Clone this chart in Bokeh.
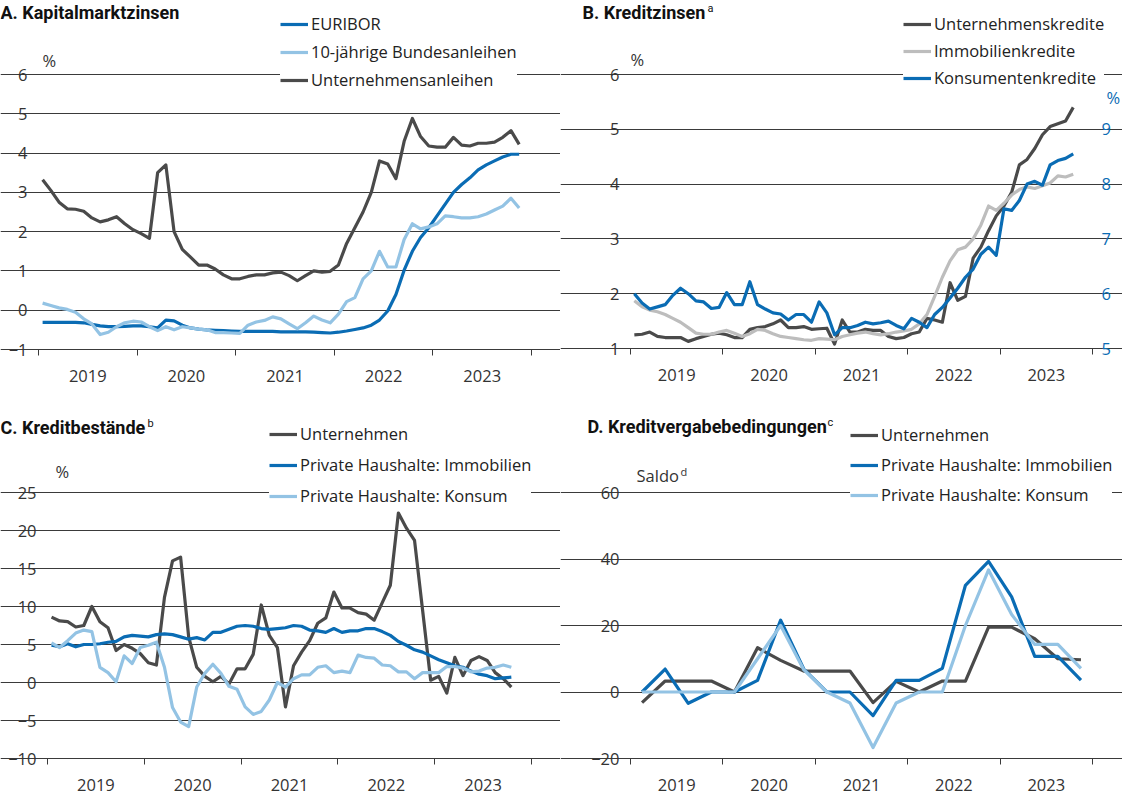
import pandas as pd
from bokeh.plotting import figure
from bokeh.models import Range1d, FixedTicker, Legend, LegendItem, Label, LinearAxis
from bokeh.layouts import row, column
from bokeh.embed import file_html
from bokeh.resources import INLINE

# ---------------- data ----------------
YEARS = ["2019", "2020", "2021", "2022", "2023"]

# A. Kapitalmarktzinsen (monthly, Jan 2019 - Nov 2023)
a_start, a_n = "2019-01", 59
euribor = [-0.31, -0.31, -0.31, -0.31, -0.31, -0.32, -0.36, -0.40, -0.42, -0.42,
           -0.41, -0.40, -0.40, -0.42, -0.45, -0.25, -0.27, -0.38, -0.45, -0.48,
           -0.50, -0.51, -0.52, -0.53, -0.54, -0.54, -0.54, -0.54, -0.54, -0.55,
           -0.55, -0.55, -0.55, -0.56, -0.57, -0.58, -0.56, -0.53, -0.49, -0.45,
           -0.38, -0.25, -0.02, 0.40, 1.02, 1.50, 1.85, 2.10, 2.40, 2.70,
           3.00, 3.20, 3.37, 3.57, 3.70, 3.80, 3.90, 3.97, 3.97]
bund10 = [0.18, 0.12, 0.06, 0.02, -0.05, -0.22, -0.35, -0.62, -0.56, -0.42,
          -0.32, -0.28, -0.30, -0.42, -0.52, -0.42, -0.50, -0.42, -0.45, -0.48,
          -0.50, -0.57, -0.57, -0.58, -0.59, -0.38, -0.30, -0.26, -0.17, -0.22,
          -0.35, -0.47, -0.32, -0.15, -0.25, -0.32, -0.10, 0.22, 0.32, 0.80,
          1.00, 1.50, 1.10, 1.10, 1.80, 2.20, 2.07, 2.12, 2.20, 2.40,
          2.38, 2.35, 2.35, 2.38, 2.45, 2.55, 2.65, 2.85, 2.60]
corp_bonds = [3.32, 3.05, 2.75, 2.58, 2.57, 2.52, 2.35, 2.25, 2.30, 2.38,
              2.20, 2.05, 1.95, 1.83, 3.50, 3.70, 2.00, 1.55, 1.35, 1.15,
              1.15, 1.05, 0.90, 0.80, 0.80, 0.86, 0.90, 0.90, 0.95, 0.97,
              0.88, 0.75, 0.88, 1.00, 0.97, 0.99, 1.15, 1.70, 2.10, 2.50,
              3.00, 3.80, 3.72, 3.35, 4.30, 4.88, 4.42, 4.18, 4.15, 4.15,
              4.40, 4.20, 4.18, 4.25, 4.25, 4.28, 4.40, 4.57, 4.22]

# B. Kreditzinsen (monthly, Jan 2019 - Oct 2023)
b_start, b_n = "2019-01", 58
corp_loans = [1.25, 1.26, 1.30, 1.22, 1.20, 1.20, 1.20, 1.13, 1.18, 1.22,
              1.26, 1.28, 1.25, 1.20, 1.20, 1.35, 1.38, 1.40, 1.45, 1.52,
              1.38, 1.38, 1.40, 1.35, 1.36, 1.37, 1.08, 1.52, 1.30, 1.30,
              1.35, 1.33, 1.33, 1.22, 1.18, 1.20, 1.27, 1.30, 1.55, 1.52,
              1.48, 2.20, 1.88, 1.95, 2.65, 2.85, 3.15, 3.42, 3.60, 3.85,
              4.35, 4.45, 4.65, 4.90, 5.05, 5.10, 5.15, 5.40]
mortgage_rates = [1.87, 1.76, 1.70, 1.67, 1.62, 1.55, 1.48, 1.38, 1.28, 1.26,
                  1.26, 1.30, 1.33, 1.28, 1.22, 1.27, 1.35, 1.33, 1.27, 1.22,
                  1.20, 1.18, 1.16, 1.15, 1.18, 1.17, 1.16, 1.22, 1.25, 1.28,
                  1.30, 1.27, 1.25, 1.27, 1.30, 1.32, 1.35, 1.45, 1.62, 1.95,
                  2.30, 2.60, 2.80, 2.85, 3.00, 3.25, 3.60, 3.52, 3.65, 3.80,
                  3.90, 3.95, 3.92, 3.97, 4.02, 4.15, 4.13, 4.18]
consumer_rates = [6.00, 5.83, 5.72, 5.76, 5.80, 5.97, 6.10, 6.00, 5.87, 5.85,
                  5.73, 5.75, 6.02, 5.80, 5.80, 6.22, 5.80, 5.72, 5.65, 5.63,
                  5.52, 5.62, 5.62, 5.48, 5.85, 5.65, 5.25, 5.38, 5.38, 5.42,
                  5.48, 5.45, 5.47, 5.50, 5.42, 5.36, 5.55, 5.48, 5.38, 5.62,
                  5.75, 5.92, 6.10, 6.30, 6.45, 6.72, 6.85, 6.70, 7.55, 7.52,
                  7.70, 8.00, 8.05, 7.98, 8.35, 8.43, 8.47, 8.55]

# C. Kreditbestände (monthly, Jan 2019 - Oct 2023)
c_start, c_n = "2019-01", 58
stock_firms = [8.6, 8.1, 8.0, 7.3, 7.5, 10.0, 8.0, 7.2, 4.2, 5.0,
               4.5, 3.8, 2.6, 2.3, 11.2, 16.0, 16.5, 6.0, 2.0, 0.8,
               0.1, 0.8, -0.2, 1.8, 1.8, 3.7, 10.2, 6.2, 4.6, -3.2,
               2.2, 4.0, 5.5, 7.8, 8.5, 11.9, 9.8, 9.8, 9.2, 9.0,
               8.2, 10.5, 12.8, 22.3, 20.3, 18.7, 9.5, 0.3, 0.8, -1.4,
               3.3, 0.9, 2.9, 3.4, 2.9, 1.3, 0.5, -0.6]
stock_mortgage = [4.9, 4.7, 5.1, 4.7, 5.0, 5.0, 5.1, 5.3, 5.4, 6.0,
                  6.2, 6.1, 6.0, 6.3, 6.4, 6.3, 6.0, 5.7, 5.9, 5.6,
                  6.6, 6.6, 7.0, 7.4, 7.5, 7.4, 7.1, 7.0, 7.1, 7.2,
                  7.5, 7.4, 6.9, 6.8, 6.6, 7.1, 6.6, 6.8, 6.8, 7.1,
                  7.1, 6.7, 6.2, 5.4, 4.9, 4.3, 4.0, 3.5, 3.0, 2.6,
                  2.2, 2.0, 1.5, 1.1, 0.9, 0.5, 0.6, 0.7]
stock_consumer = [5.2, 4.6, 5.5, 6.5, 6.9, 6.7, 2.0, 1.3, 0.1, 3.5,
                  2.5, 4.6, 4.9, 5.3, 2.0, -3.3, -5.2, -5.8, -0.6, 1.2,
                  2.4, 1.2, -0.5, -0.9, -3.2, -4.2, -3.8, -2.3, 0.0, -0.6,
                  0.5, 1.0, 1.0, 2.0, 2.2, 1.3, 1.5, 1.3, 3.6, 3.3,
                  3.2, 2.3, 2.2, 1.4, 1.4, 0.5, 1.3, 1.3, 1.3, 2.1,
                  2.1, 1.9, 1.4, 1.5, 1.9, 2.0, 2.3, 2.0]

# D. Kreditvergabebedingungen (quarterly, Q1 2019 - Q4 2023)
d_start, d_n = "2019Q1", 20
cond_firms = [-3.2, 3.3, 3.3, 3.3, 0.0, 13.3, 9.5, 6.3, 6.3, 6.3,
              -3.2, 3.2, 0.0, 3.3, 3.3, 19.5, 19.5, 16.0, 10.0, 9.7]
cond_mortgage = [0.0, 6.9, -3.4, 0.0, 0.0, 3.5, 21.6, 6.9, 0.0, 0.0,
                 -7.1, 3.5, 3.5, 7.1, 32.1, 39.3, 28.6, 10.7, 10.7, 3.6]
cond_consumer = [0.0, 0.0, 0.0, 0.0, 0.0, 10.0, 20.0, 6.7, 0.0, -3.3,
                 -16.7, -3.3, 0.0, 0.0, 20.0, 36.7, 23.3, 14.3, 14.3, 7.1]

# ---------------- styling ----------------
FONT = "Open Sans"
TITLE_FONT = "Roboto"
DARK = "#4a4a4a"
BLUE = "#0a6cb4"
LBLUE = "#93c3e4"
LGRAY = "#bdbdbd"
TXT = "#333333"
GRID = "#3a3a3a"
LW = 3.2
TICK_FS = "16.5px"
LEG_FS = "16.5px"
X0, X1 = int(YEARS[0]), int(YEARS[-1]) + 1


def months(start, n):
    return [p.year + (p.month - 0.5) / 12 for p in pd.period_range(start, periods=n, freq="M")]


def quarters(start, n):
    return [p.year + (p.quarter * 3 - 1.5) / 12 for p in pd.period_range(start, periods=n, freq="Q")]


def px_range(v_lo, px_lo, v_hi, px_hi, size):
    """Range whose v_lo sits at px_lo and v_hi at px_hi (pixels from the top)."""
    k = (v_hi - v_lo) / (px_lo - px_hi)
    return Range1d(v_lo - (size - px_lo) * k, v_hi + px_hi * k)


def make_fig(width, height, left, right, yticks, top_px, bottom_px):
    """The frame covers the whole canvas; axes sit at fixed data locations."""
    ppy = (right - left) / (X1 - X0)
    xr = Range1d(X0 - left / ppy, X1 + (width - right) / ppy)
    yr = px_range(yticks[0], bottom_px, yticks[-1], top_px, height)
    p = figure(width=width, height=height, x_range=xr, y_range=yr,
               output_backend="svg", toolbar_location=None, min_border=0,
               min_border_left=0, min_border_right=0,
               min_border_top=0, min_border_bottom=0)
    p.outline_line_color = None
    p.xgrid.visible = False
    p.ygrid.grid_line_color = GRID
    p.ygrid.grid_line_width = 1
    p.ygrid.bounds = (X0, X1)
    yax = p.yaxis[0]
    yax.fixed_location = X0
    yax.ticker = FixedTicker(ticks=yticks, minor_ticks=[])
    yax.major_label_overrides = {t: (str(t).replace("-", "\u2212")) for t in yticks}
    yax.axis_line_color = None
    yax.major_tick_line_color = None
    yax.minor_tick_line_color = None
    yax.major_tick_out = 0
    yax.major_tick_in = 0
    yax.major_label_standoff = 11
    yax.major_label_text_font = FONT
    yax.major_label_text_font_size = TICK_FS
    yax.major_label_text_color = TXT
    xax = p.xaxis[0]
    mids = [int(y) + 0.5 for y in YEARS]
    bounds = [int(y) for y in YEARS] + [X1]
    xax.fixed_location = yticks[0]
    xax.bounds = (X0, X1)
    xax.ticker = FixedTicker(ticks=mids, minor_ticks=bounds)
    xax.major_label_overrides = {m: y for m, y in zip(mids, YEARS)}
    xax.major_tick_line_color = None
    xax.major_tick_in = 0
    xax.major_tick_out = 0
    xax.minor_tick_in = 0
    xax.minor_tick_out = 6
    xax.minor_tick_line_color = GRID
    xax.axis_line_color = GRID
    xax.major_label_standoff = 14
    xax.major_label_text_font = FONT
    xax.major_label_text_font_size = TICK_FS
    xax.major_label_text_color = TXT
    return p


def add_legend(p, items, x, bottom_px, spacing, padding):
    leg = Legend(items=[LegendItem(label=l, renderers=[r]) for l, r in items],
                 location=(x, p.height - bottom_px), orientation="vertical",
                 background_fill_color="white", background_fill_alpha=1.0,
                 border_line_color=None, padding=padding, spacing=spacing, margin=0,
                 label_standoff=3, glyph_width=28, glyph_height=20, label_height=20,
                 label_text_font=FONT, label_text_font_size=LEG_FS,
                 label_text_color="#222222", label_text_baseline="middle")
    p.add_layout(leg)


def add_text(p, text, x, top_px, size="16.5px", bold=False, color="#111111", font=FONT):
    p.add_layout(Label(x=x, y=p.height - top_px, x_units="screen", y_units="screen", text=text,
                       text_font=font, text_font_size=size,
                       text_font_style="bold" if bold else "normal",
                       text_color=color, text_baseline="middle", text_align="left"))


def add_title(p, text, sup, x, top_px, sup_dx):
    add_text(p, text, x, top_px, size="18px", bold=True, font=TITLE_FONT)
    if sup:
        add_text(p, sup, x + sup_dx, top_px - 4, size="11px", font=TITLE_FONT)


# ---------------- panel A ----------------
xa = months(a_start, a_n)
pa = make_fig(560, 390, 38, 531, [-1, 0, 1, 2, 3, 4, 5, 6], 74, 349)
ra1 = pa.line(xa, euribor, color=BLUE, line_width=LW, line_join="round")
ra2 = pa.line(xa, bund10, color=LBLUE, line_width=LW, line_join="round")
ra3 = pa.line(xa, corp_bonds, color=DARK, line_width=LW, line_join="round")
add_legend(pa, [("EURIBOR", ra1), ("10-jährige Bundesanleihen", ra2),
                ("Unternehmensanleihen", ra3)], 280, 91, 5, 14)
add_title(pa, "A. Kapitalmarktzinsen", None, 0, 12, 0)
add_text(pa, "%", 42, 60, color=TXT)

# ---------------- panel B ----------------
xb = months(b_start, b_n)
pb = make_fig(562, 390, 70, 532, [1, 2, 3, 4, 5, 6], 74, 348)
lo, hi = pb.y_range.start, pb.y_range.end
pb.extra_y_ranges = {"right": Range1d(lo + 4, hi + 4)}
rax = LinearAxis(y_range_name="right", ticker=FixedTicker(ticks=[5, 6, 7, 8, 9], minor_ticks=[]))
rax.fixed_location = X1
rax.axis_line_color = None
rax.major_tick_line_color = None
rax.minor_tick_line_color = None
rax.major_tick_out = 0
rax.major_tick_in = 0
rax.major_label_standoff = 9
rax.major_label_text_font = FONT
rax.major_label_text_font_size = TICK_FS
rax.major_label_text_color = BLUE
pb.add_layout(rax, "right")
rb1 = pb.line(xb, corp_loans, color=DARK, line_width=LW, line_join="round")
rb2 = pb.line(xb, mortgage_rates, color=LGRAY, line_width=LW, line_join="round")
rb3 = pb.line(xb, consumer_rates, color=BLUE, line_width=LW, line_join="round", y_range_name="right")
add_legend(pb, [("Unternehmenskredite", rb1), ("Immobilienkredite", rb2),
                ("Konsumentenkredite", rb3)], 343, 89, 4, 14)
add_title(pb, "B. Kreditzinsen", "a", 22, 12, 125)
add_text(pb, "%", 70, 59, color=TXT)
add_text(pb, "%", 546, 97, color=BLUE)

# ---------------- panel C ----------------
xc = months(c_start, c_n)
pc = make_fig(560, 404, 47, 531, [-10, -5, 0, 5, 10, 15, 20, 25], 102, 368)
rc1 = pc.line(xc, stock_firms, color=DARK, line_width=LW, line_join="round")
rc2 = pc.line(xc, stock_mortgage, color=BLUE, line_width=LW, line_join="round")
rc3 = pc.line(xc, stock_consumer, color=LBLUE, line_width=LW, line_join="round")
add_legend(pc, [("Unternehmen", rc1), ("Private Haushalte: Immobilien", rc2),
                ("Private Haushalte: Konsum", rc3)], 269, 117, 8, 6)
add_title(pc, "C. Kreditbestände", "b", 0, 37, 147)
add_text(pc, "%", 55, 81, color=TXT)

# ---------------- panel D ----------------
xd = quarters(d_start, d_n)
pd_ = make_fig(562, 404, 70, 532, [-20, 0, 20, 40, 60], 102, 368)
rd1 = pd_.line(xd, cond_firms, color=DARK, line_width=LW, line_join="round")
rd2 = pd_.line(xd, cond_mortgage, color=BLUE, line_width=LW, line_join="round")
rd3 = pd_.line(xd, cond_consumer, color=LBLUE, line_width=LW, line_join="round")
add_legend(pd_, [("Unternehmen", rd1), ("Private Haushalte: Immobilien", rd2),
                 ("Private Haushalte: Konsum", rd3)], 290, 116, 7, 8)
add_title(pd_, "D. Kreditvergabebedingungen", "c", 27, 36, 240)
add_text(pd_, "Saldo", 76, 85, color=TXT)
add_text(pd_, "d", 120, 81, size="11px", color=TXT)

layout = column(row(pa, pb), row(pc, pd_))
open("out.html", "w").write(file_html(layout, INLINE))
